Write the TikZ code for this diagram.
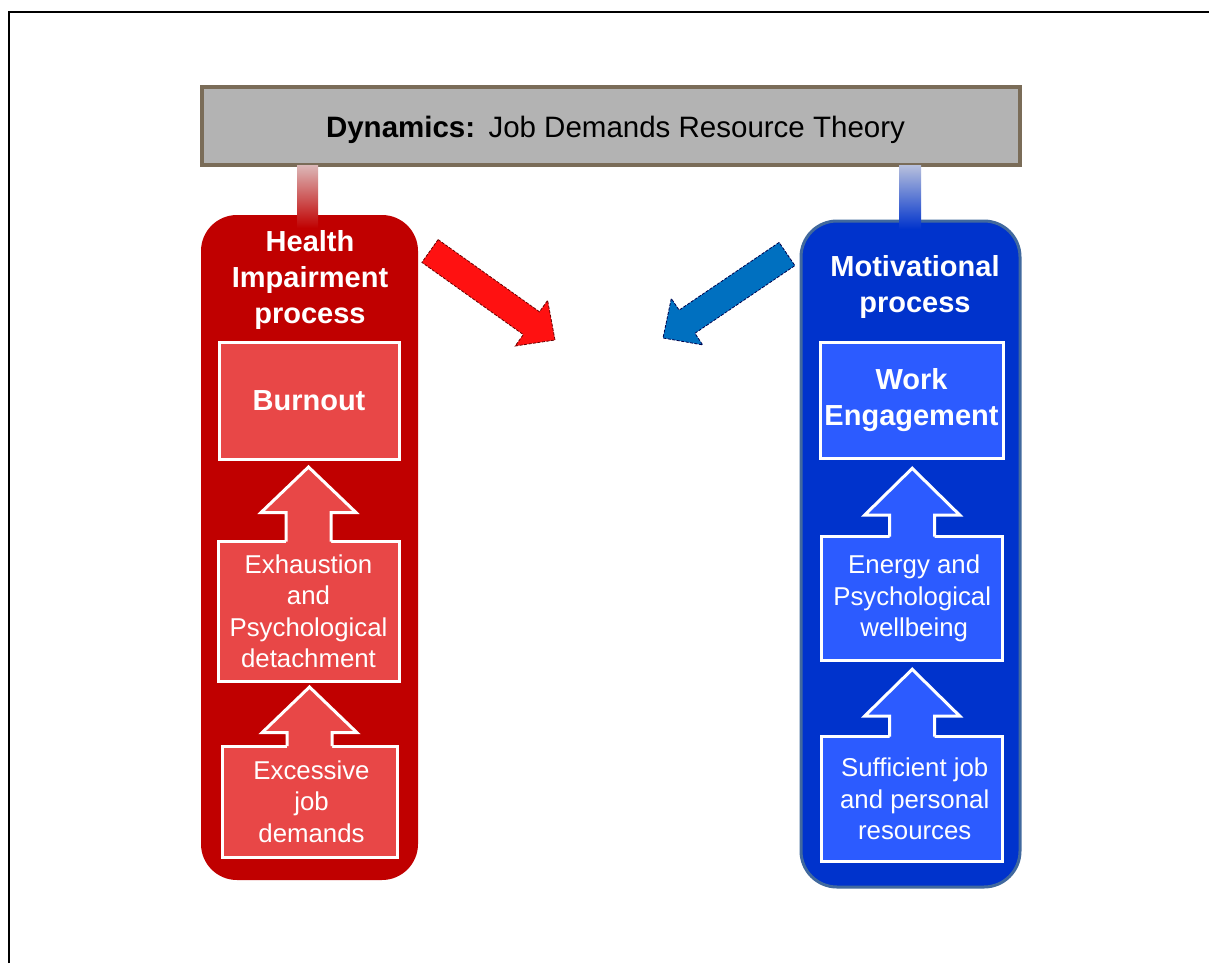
\documentclass[tikz,border=0pt]{standalone}
\usepackage{fontspec}
\setmainfont{Liberation Sans}
\usetikzlibrary{calc}
\definecolor{titlefill}{HTML}{B3B3B3}
\definecolor{titleborder}{HTML}{7A6C58}
\definecolor{redouter}{HTML}{C00000}
\definecolor{redinner}{HTML}{E84747}
\definecolor{redarrow}{HTML}{FF1111}
\definecolor{redbartop}{HTML}{DCB8B8}
\definecolor{blueouter}{HTML}{0033CC}
\definecolor{blueinner}{HTML}{2C5BFF}
\definecolor{blueborder}{HTML}{41699E}
\definecolor{bluearrow}{HTML}{0070C0}
\definecolor{bluebartop}{HTML}{B8C0DC}
\newcommand\UpArrowOn[4]{%
  \fill[#4] ($(#1.north)+(-22.5,2.5)$) -- ($(#1.north)+(-22.5,-#2)$) -- ($(#1.north)+(-47.5,-#2)$)
    -- ($(#1.north)+(0,-#3)$) -- ($(#1.north)+(47.5,-#2)$) -- ($(#1.north)+(22.5,-#2)$)
    -- ($(#1.north)+(22.5,2.5)$) -- cycle;
  \draw[white, line width=3pt, line join=miter] ($(#1.north)+(-22.5,0)$) -- ($(#1.north)+(-22.5,-#2)$) -- ($(#1.north)+(-47.5,-#2)$)
    -- ($(#1.north)+(0,-#3)$) -- ($(#1.north)+(47.5,-#2)$) -- ($(#1.north)+(22.5,-#2)$)
    -- ($(#1.north)+(22.5,0)$);}
\begin{document}
\begin{tikzpicture}[x=1pt,y=-1pt,
  titlebox/.style={draw=titleborder, fill=titlefill, line width=4pt, inner sep=0pt, outer sep=0pt},
  titletext/.style={inner sep=0pt, font=\fontsize{29.5}{34}\selectfont},
  outerbox/.style={rounded corners=36pt, inner sep=0pt, outer sep=0pt},
  headtext/.style={text=white, align=center, inner sep=0pt, font=\fontsize{29}{36}\selectfont\bfseries},
  innerbox/.style={draw=white, line width=3pt, inner sep=0pt, outer sep=0pt, text=white, align=center,
    font=\fontsize{25.8}{31.5}\selectfont},
  innerbold/.style={innerbox, font=\fontsize{29}{36}\selectfont\bfseries},
  diagarrow/.style={line width=0.8pt, dash pattern=on 3pt off 1.5pt}
]
\useasboundingbox (0,0) rectangle (1209,963);
\fill[white] (0,0) rectangle (1209,963);
% frame
\draw[line width=2.5pt] (9,963) -- (9,12) -- (1209,12);

% title
\node[titlebox, minimum width=817.5pt, minimum height=78pt] (title) at (610.75,126) {};
\node[titletext] (titlelabel) at (615.5,130)
  {\textbf{Dynamics:}\hspace{0.45em}Job Demands Resource Theory};

% outer boxes
\node[outerbox, fill=redouter, minimum width=217pt, minimum height=665pt] (red) at (309.5,547.5) {};
\node[outerbox, fill=blueouter, draw=blueborder, line width=3pt, minimum width=219pt, minimum height=666pt] (blue) at (910.5,554) {};

% connector bars
\shade[top color=redbartop, bottom color=redouter] ($(title.south -| red.north)+(-12.5,0)$) rectangle ($(red.north)+(8.5,13)$);
\shade[top color=bluebartop, bottom color=blueouter] ($(title.south -| blue.north)+(-11.5,0)$) rectangle ($(blue.north)+(10.5,8)$);

% headings
\node[headtext] (redhead) at (310,280) {Health\\Impairment\\process};
\node[headtext] (bluehead) at (915,287) {Motivational\\process};

% red column
\node[innerbold, fill=redinner, minimum width=180pt, minimum height=117pt] (rb1) at (309,400.5) {Burnout};
\node[innerbox, fill=redinner, minimum width=181pt, minimum height=139.5pt] (rb2) at (308.5,611.25)
  {Exhaustion\\and\\Psychological\\detachment};
\node[innerbox, fill=redinner, minimum width=175pt, minimum height=111pt] (rb3) at (309.5,801.5)
  {\hspace*{4pt}Excessive\\\hspace*{4pt}job\\\hspace*{4pt}demands};
\UpArrowOn{rb2}{29}{74.5}{redinner}
\UpArrowOn{rb3}{13.3}{59}{redinner}

% blue column
\node[innerbold, fill=blueinner, minimum width=183pt, minimum height=116.5pt] (bb1) at (911.5,400.25)
  {Work\\Engagement};
\node[innerbox, fill=blueinner, minimum width=181pt, minimum height=123.3pt] (bb2) at (912.2,598.35)
  {\hspace*{4pt}Energy and\\Psychological\\\hspace*{4pt}wellbeing};
\node[innerbox, fill=blueinner, minimum width=181pt, minimum height=124.3pt] (bb3) at (912.2,798.85)
  {\hspace*{5pt}Sufficient job\\\hspace*{5pt}and personal\\\hspace*{5pt}resources};
\UpArrowOn{bb2}{21.7}{68.4}{blueinner}
\UpArrowOn{bb3}{20.7}{67.4}{blueinner}

% diagonal arrows
\coordinate (rtip) at (555,340);
\coordinate (btip) at (663,338);
\draw[diagarrow, fill=redarrow, draw=red!40!black] (438.1,239.6) -- (539.5,311.8) -- (547.6,300.4) -- (rtip)
  -- (515.2,346.0) -- (523.3,334.6) -- (421.9,262.4) -- cycle;
\draw[diagarrow, fill=bluearrow, draw=blue!30!black] (779.1,242.4) -- (679.1,310.1) -- (671.3,298.5) -- (btip)
  -- (702.7,344.9) -- (694.9,333.3) -- (794.9,265.6) -- cycle;
\end{tikzpicture}
\end{document}
